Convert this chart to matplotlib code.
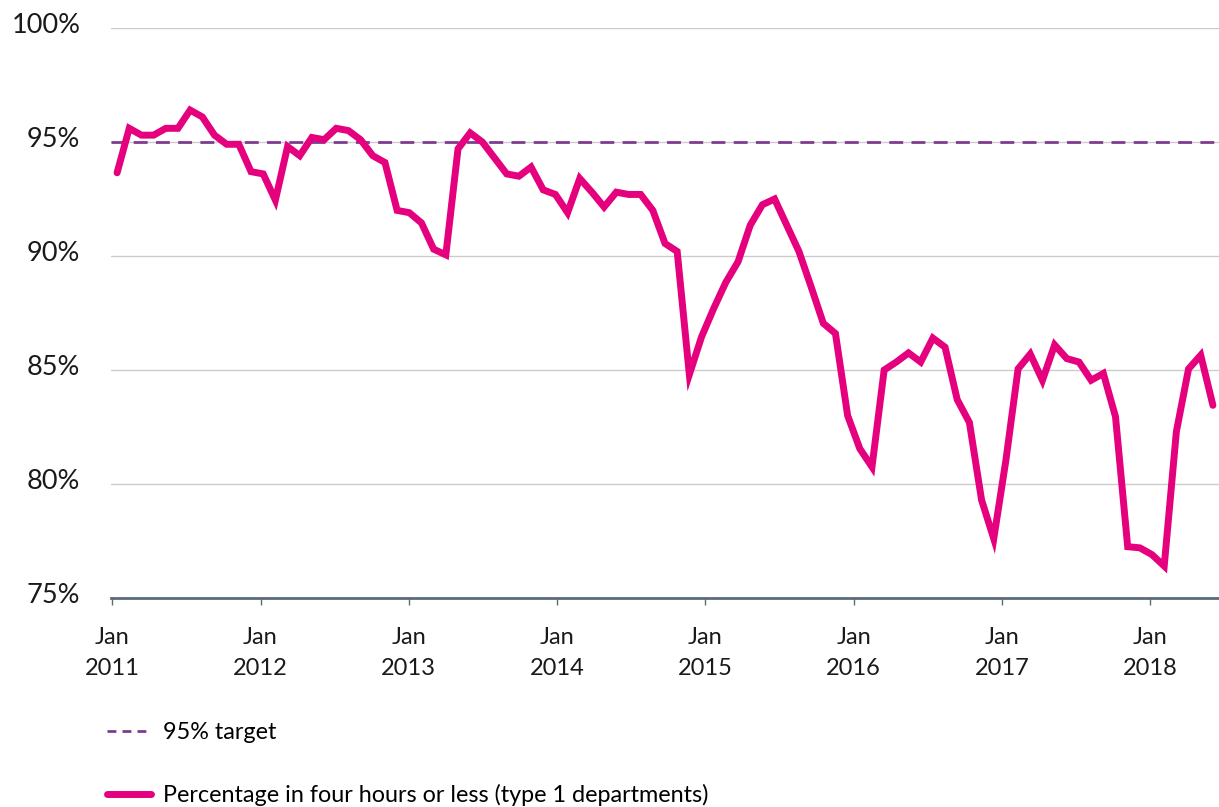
import numpy as np
import matplotlib.pyplot as plt
import matplotlib.transforms as mtransforms
from matplotlib.lines import Line2D

# monthly performance, Jan 2011 - Jul 2018 (type 1 A&E departments)
pct_4hrs = [
    93.65, 95.6, 95.3, 95.3, 95.6, 95.6, 96.4, 96.1, 95.3, 94.9, 94.9, 93.7,
    93.6, 92.45, 94.8, 94.4, 95.2, 95.1, 95.6, 95.5, 95.1, 94.4, 94.1, 92.0,
    91.9, 91.45, 90.3, 90.05, 94.7, 95.4, 95.0, 94.3, 93.6, 93.5, 93.9, 92.9,
    92.7, 91.9, 93.4, 92.8, 92.15, 92.8, 92.7, 92.7, 92.0, 90.55, 90.2, 84.8,
    86.45, 87.7, 88.85, 89.75, 91.35, 92.25, 92.5, 91.35, 90.2, 88.65, 87.05, 86.6,
    83.0, 81.55, 80.75, 85.0, 85.35, 85.75, 85.35, 86.4, 86.0, 83.7, 82.7, 79.3,
    77.6, 81.05, 85.05, 85.7, 84.55, 86.1, 85.5, 85.35, 84.55, 84.85, 82.95, 77.25,
    77.2, 76.9, 76.4, 82.3, 85.05, 85.65, 83.45,
]
target = 95
years = ['2011', '2012', '2013', '2014', '2015', '2016', '2017', '2018']
tick_labels = ['Jan\n' + y for y in years]
yvals = [75, 80, 85, 90, 95, 100]

pink = '#e5007e'
purple = '#7d3c8f'

plt.rcParams['font.family'] = ['Lato', 'DejaVu Sans']

fig = plt.figure(figsize=(12.19, 8.07), dpi=100)
ax = fig.add_axes([111 / 1219, 1 - 598 / 807, 1 - 111 / 1219, 570 / 807])

months = np.arange(len(pct_4hrs))
ax.axhline(target, color=purple, lw=2, ls=(0, (5, 3)), zorder=2)
ax.plot(months, pct_4hrs, color=pink, lw=5, solid_capstyle='round', solid_joinstyle='miter', zorder=3)

ax.set_xlim(-0.5, 90.5)
ax.set_ylim(75, 100)
ax.set_yticks(yvals)
ax.set_yticklabels([f'{v}%' for v in yvals])
ax.set_xticks([-0.4 + 12.18 * k for k in range(len(years))])
ax.set_xticklabels(tick_labels, linespacing=1.55)

ax.grid(axis='y', color='#cccccc', lw=1)
ax.set_axisbelow(True)
for s in ['top', 'right', 'left']:
    ax.spines[s].set_visible(False)
ax.spines['bottom'].set_color('#5c6b7a')
ax.spines['bottom'].set_linewidth(2)
ax.spines['bottom'].set_zorder(4)
ax.tick_params(axis='y', length=0, pad=22, labelsize=19.5, colors='#1a1a1a')
ax.tick_params(axis='x', length=5, width=1, color='#5c6b7a', pad=16, labelsize=17, colors='#1a1a1a')

shift = mtransforms.ScaledTranslation(0, 5 / 100, fig.dpi_scale_trans)
for lab in ax.get_yticklabels():
    lab.set_transform(lab.get_transform() + shift)

handles = [
    Line2D([], [], color=purple, lw=2, ls=(0, (3.2, 2.2))),
    Line2D([], [], color=pink, lw=5, solid_capstyle='round'),
]
labels = ['95% target', 'Percentage in four hours or less (type 1 departments)']
fig.legend(handles, labels, loc='upper left', bbox_to_anchor=(107 / 1219, 1 - 722 / 807), frameon=False,
           fontsize=16.8, labelspacing=1.75, handlelength=1.9, handletextpad=0.5,
           borderaxespad=0, borderpad=0)

fig.savefig('out.png', dpi=100)
